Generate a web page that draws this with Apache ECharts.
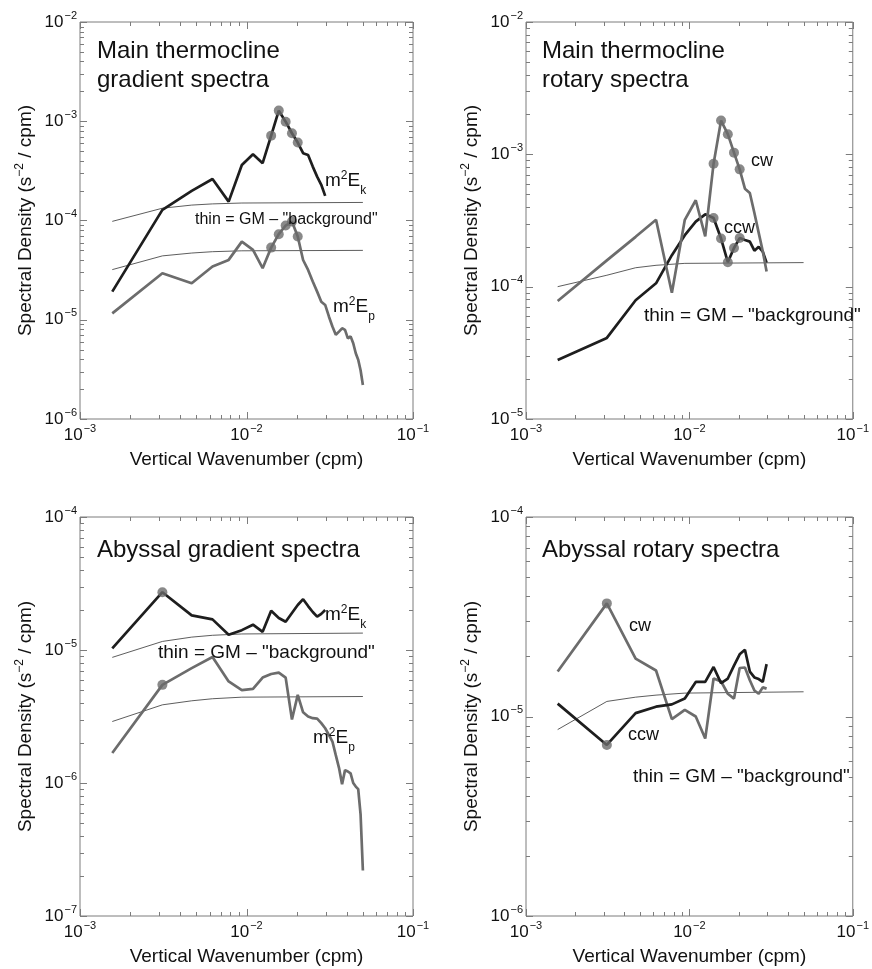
<!DOCTYPE html>
<html><head><meta charset="utf-8">
<script src="https://cdn.jsdelivr.net/npm/echarts@6/dist/echarts.min.js"></script>
<style>html,body{margin:0;padding:0;background:#fff}#c{width:872px;height:969px}</style>
</head><body><div id="c"></div>
<script>
// ---------- DATA ----------
// vertical wavenumber (cpm): harmonics of 1/640 cpm
const wavenumber = [0.0015625, 0.003125, 0.0046875, 0.00625, 0.0078125, 0.009375, 0.0109375, 0.0125,
  0.0140625, 0.015625, 0.0171875, 0.01875, 0.0203125, 0.021875, 0.0234375, 0.025,
  0.0265625, 0.028125, 0.0296875, 0.03125, 0.0328125, 0.034375, 0.0359375, 0.0375,
  0.0390625, 0.040625, 0.0421875, 0.04375, 0.0453125, 0.046875, 0.0484375, 0.05];
// GM reference curves are given at these wavenumbers
const gmWavenumber = [0.0015625, 0.003125, 0.0046875, 0.00625, 0.009375, 0.05];

// Main thermocline gradient spectra
const thermoEk = [1.92e-5, 1.28e-4, 1.99e-4, 2.62e-4, 1.55e-4, 3.63e-4, 4.66e-4, 3.78e-4, 7.16e-4, 1.28e-3,
  9.9e-4, 7.57e-4, 6.1e-4, 4.77e-4, 4.58e-4, 3.49e-4, 2.77e-4, 2.29e-4, 1.77e-4];
const thermoEp = [1.16e-5, 2.94e-5, 2.33e-5, 3.44e-5, 4.01e-5, 6.13e-5, 5.06e-5, 3.31e-5, 5.33e-5, 7.28e-5,
  8.9e-5, 9.75e-5, 6.9e-5, 4.0e-5, 3.18e-5, 2.43e-5, 1.92e-5, 1.52e-5, 1.41e-5, 1.08e-5,
  8.55e-6, 7.05e-6, 7.6e-6, 8.2e-6, 7.9e-6, 6.5e-6, 6.8e-6, 5.8e-6, 4.6e-6, 3.95e-6, 3.1e-6, 2.2e-6];
const thermoGmEk = [9.8e-5, 1.33e-4, 1.43e-4, 1.47e-4, 1.5e-4, 1.52e-4];
const thermoGmEp = [3.2e-5, 4.4e-5, 4.7e-5, 4.85e-5, 4.95e-5, 5.0e-5];
const thermoGradMarked = [8, 9, 10, 11, 12];

// Main thermocline rotary spectra
const thermoCw = [7.8e-5, 1.58e-4, 2.38e-4, 3.2e-4, 9.0e-5, 3.2e-4, 4.5e-4, 2.4e-4, 8.5e-4, 1.8e-3,
  1.42e-3, 1.03e-3, 7.7e-4, 5.5e-4, 5.1e-4, 3.6e-4, 2.55e-4, 1.85e-4, 1.3e-4];
const thermoCcw = [2.79e-5, 4.1e-5, 7.9e-5, 1.06e-4, 1.73e-4, 2.45e-4, 3.1e-4, 3.52e-4, 3.3e-4, 2.31e-4,
  1.53e-4, 1.96e-4, 2.33e-4, 2.25e-4, 2.19e-4, 1.87e-4, 2.0e-4, 1.84e-4, 1.52e-4];
const thermoGmRot = [1.0e-4, 1.22e-4, 1.39e-4, 1.45e-4, 1.5e-4, 1.52e-4];
const thermoRotMarked = [8, 9, 10, 11, 12];

// Abyssal gradient spectra
const abyssEk = [1.03e-5, 2.72e-5, 1.82e-5, 1.7e-5, 1.3e-5, 1.41e-5, 1.55e-5, 1.37e-5, 1.97e-5, 1.74e-5,
  1.63e-5, 1.9e-5, 2.18e-5, 2.41e-5, 2.14e-5, 1.93e-5, 1.78e-5, 1.87e-5, 2.0e-5];
const abyssEp = [1.68e-6, 5.47e-6, 7.3e-6, 8.85e-6, 5.8e-6, 5.0e-6, 5.1e-6, 6.2e-6, 6.6e-6, 6.75e-6,
  6.2e-6, 3.0e-6, 4.6e-6, 3.4e-6, 3.16e-6, 3.07e-6, 3.05e-6, 2.82e-6, 2.58e-6, 2.3e-6,
  2.05e-6, 1.62e-6, 1.3e-6, 9.8e-7, 1.25e-6, 1.22e-6, 1.18e-6, 1.0e-6, 9.4e-7, 9.0e-7, 5.8e-7, 2.2e-7];
const abyssGmEk = [8.8e-6, 1.16e-5, 1.25e-5, 1.29e-5, 1.32e-5, 1.34e-5];
const abyssGmEp = [2.9e-6, 3.87e-6, 4.15e-6, 4.3e-6, 4.42e-6, 4.47e-6];
const abyssGradMarked = [1];

// Abyssal rotary spectra
const abyssCw = [1.68e-5, 3.69e-5, 1.95e-5, 1.7e-5, 9.7e-6, 1.08e-5, 1.0e-5, 7.75e-6, 1.55e-5, 1.5e-5,
  1.3e-5, 1.23e-5, 1.75e-5, 1.76e-5, 1.52e-5, 1.35e-5, 1.3e-5, 1.4e-5, 1.38e-5];
const abyssCcw = [1.16e-5, 7.2e-6, 1.04e-5, 1.12e-5, 1.15e-5, 1.23e-5, 1.49e-5, 1.49e-5, 1.77e-5, 1.47e-5,
  1.55e-5, 1.8e-5, 2.05e-5, 2.16e-5, 1.68e-5, 1.57e-5, 1.54e-5, 1.49e-5, 1.83e-5];
const abyssGmRot = [8.6e-6, 1.19e-5, 1.25e-5, 1.28e-5, 1.31e-5, 1.33e-5];
const abyssRotMarked = [1];

// ---------- STYLE ----------
const FONT = '"Liberation Sans", Arial, Helvetica, sans-serif';
const DARK = '#1e1e1e', GRAY = '#6c6c6c', FRAME = '#7c7c7c', TXT = '#111';

const pts = ys => ys.map((y, i) => [wavenumber[i], y]);
const gmPts = ys => ys.map((y, i) => [gmWavenumber[i], y]);
const marks = (ys, idx) => idx.map(i => [wavenumber[i], ys[i]]);

const tickRich = {
  b: {fontSize: 17, fontFamily: FONT, color: TXT, lineHeight: 26},
  s: {fontSize: 11, fontFamily: FONT, color: TXT, lineHeight: 12, verticalAlign: 'top', padding: [1, 0, 0, 1]}
};
const expLabel = v => '{b|10}{s|\u2212' + (-Math.round(Math.log10(v))) + '}';

const panels = [
  {grid: {left: 80, top: 22, width: 333, height: 397}, ymin: 1e-6, ymax: 1e-2,
   lines: [
     {d: gmPts(thermoGmEk), c: '#333', w: 0.8},
     {d: gmPts(thermoGmEp), c: '#333', w: 0.8},
     {d: pts(thermoEp), c: GRAY, w: 2.7},
     {d: pts(thermoEk), c: DARK, w: 2.7}],
   dots: [marks(thermoEk, thermoGradMarked), marks(thermoEp, thermoGradMarked)]},
  {grid: {left: 526, top: 22, width: 333, height: 397}, ymin: 1e-5, ymax: 1e-2,
   lines: [
     {d: gmPts(thermoGmRot), c: '#333', w: 0.8},
     {d: pts(thermoCcw), c: DARK, w: 2.7},
     {d: pts(thermoCw), c: GRAY, w: 2.7}],
   dots: [marks(thermoCw, thermoRotMarked), marks(thermoCcw, thermoRotMarked)]},
  {grid: {left: 80, top: 517, width: 333, height: 399}, ymin: 1e-7, ymax: 1e-4,
   lines: [
     {d: gmPts(abyssGmEk), c: '#333', w: 0.8},
     {d: gmPts(abyssGmEp), c: '#333', w: 0.8},
     {d: pts(abyssEp), c: GRAY, w: 2.7},
     {d: pts(abyssEk), c: DARK, w: 2.7}],
   dots: [marks(abyssEk, abyssGradMarked), marks(abyssEp, abyssGradMarked)]},
  {grid: {left: 526, top: 517, width: 333, height: 399}, ymin: 1e-6, ymax: 1e-4,
   lines: [
     {d: gmPts(abyssGmRot), c: '#333', w: 0.8},
     {d: pts(abyssCw), c: GRAY, w: 2.7},
     {d: pts(abyssCcw), c: DARK, w: 2.7}],
   dots: [marks(abyssCw, abyssRotMarked), marks(abyssCcw, abyssRotMarked)]}
];

const grid = [], xAxis = [], yAxis = [], series = [];
panels.forEach((p, gi) => {
  grid.push(Object.assign({show: true, borderColor: FRAME, borderWidth: 1}, p.grid));
  xAxis.push({
    type: 'log', logBase: 10, min: 1e-3, max: 1e-1, gridIndex: gi,
    axisLine: {show: false}, axisTick: {show: false}, splitLine: {show: false},
    axisLabel: {formatter: expLabel, rich: tickRich, margin: 3},
    name: 'Vertical Wavenumber (cpm)', nameLocation: 'middle', nameGap: 31,
    nameTextStyle: {fontSize: 19, color: TXT, fontFamily: FONT}
  });
  yAxis.push({
    type: 'log', logBase: 10, min: p.ymin, max: p.ymax, gridIndex: gi,
    axisLine: {show: false}, axisTick: {show: false}, splitLine: {show: false},
    axisLabel: {formatter: expLabel, rich: tickRich, margin: 3},
    name: '{a|Spectral Density (s}{s|\u22122}{a| / cpm)}', nameLocation: 'middle', nameGap: 46,
    nameTextStyle: {rich: {
      a: {fontSize: 19, fontFamily: FONT, color: TXT, lineHeight: 20, padding: [4, 0, 0, 0]},
      s: {fontSize: 12, fontFamily: FONT, color: TXT, lineHeight: 12, verticalAlign: 'top'}}}
  });
  p.lines.forEach(l => series.push({
    type: 'line', xAxisIndex: gi, yAxisIndex: gi, data: l.d, showSymbol: false,
    lineStyle: {color: l.c, width: l.w}, silent: true
  }));
  p.dots.forEach(d => series.push({
    type: 'scatter', xAxisIndex: gi, yAxisIndex: gi, data: d, symbolSize: 10,
    itemStyle: {color: GRAY}, silent: true, z: 3
  }));
  // frame ticks (inside, all four sides)
  const ymin = p.ymin, ymax = p.ymax;
  series.push({
    type: 'custom', xAxisIndex: gi, yAxisIndex: gi, silent: true, z: 4,
    data: [[1e-2, ymin]],
    renderItem: (params, api) => {
      const cs = params.coordSys;
      const ch = [];
      const ln = (x1, y1, x2, y2) => ({type: 'line', shape: {x1, y1, x2, y2}, style: {stroke: FRAME, lineWidth: 1}});
      const x0 = cs.x, x1 = cs.x + cs.width, y0 = cs.y, y1 = cs.y + cs.height;
      for (let e = -3; e <= -1; e++) {
        for (let m = 1; m <= (e < -1 ? 9 : 1); m++) {
          const v = m * Math.pow(10, e);
          const px = Math.round(api.coord([v, ymin])[0]) + 0.5;
          const L = m === 1 ? 7 : 4;
          ch.push(ln(px, y1, px, y1 - L), ln(px, y0, px, y0 + L));
        }
      }
      const eMinY = Math.round(Math.log10(ymin)), eMaxY = Math.round(Math.log10(ymax));
      for (let e = eMinY; e <= eMaxY; e++) {
        for (let m = 1; m <= (e < eMaxY ? 9 : 1); m++) {
          const v = m * Math.pow(10, e);
          const py = Math.round(api.coord([1e-2, v])[1]) + 0.5;
          const L = m === 1 ? 7 : 4;
          ch.push(ln(x0, py, x0 + L, py), ln(x1, py, x1 - L, py));
        }
      }
      return {type: 'group', children: ch};
    }
  });
});

const annRich = {
  a: {fontSize: 19, fontFamily: FONT, color: TXT, lineHeight: 36},
  p: {fontSize: 12, fontFamily: FONT, color: TXT, lineHeight: 12, padding: [7, 0, 0, 0], verticalAlign: 'top'},
  q: {fontSize: 12, fontFamily: FONT, color: TXT, lineHeight: 12, padding: [0, 0, 2, 0], verticalAlign: 'bottom'}
};
const T = (text, left, top, size) => ({
  text, left, top, padding: 0, itemGap: 0,
  textStyle: {fontSize: size || 19, fontWeight: 'normal', fontFamily: FONT, color: TXT,
    lineHeight: size === 24 ? 29 : (size || 19) + 2, rich: annRich}
});
const title = [
  T('Main thermocline\ngradient spectra', 97, 37, 24),
  T('Main thermocline\nrotary spectra', 542, 37, 24),
  T('Abyssal gradient spectra', 97, 536, 24),
  T('Abyssal rotary spectra', 542, 536, 24),
  T('{a|m}{p|2}{a|E}{q|k}', 325, 163),
  T('{a|m}{p|2}{a|E}{q|p}', 333, 289),
  T('thin = GM \u2013 "background"', 195, 211, 16),
  T('cw', 751, 151, 18),
  T('ccw', 724, 218, 18),
  T('thin = GM \u2013 "background"', 644, 305, 19),
  T('{a|m}{p|2}{a|E}{q|k}', 325, 597),
  T('{a|m}{p|2}{a|E}{q|p}', 313, 720),
  T('thin = GM \u2013 "background"', 158, 642, 19),
  T('cw', 629, 616, 18),
  T('ccw', 628, 725, 18),
  T('thin = GM \u2013 "background"', 633, 766, 19)
];

const chart = echarts.init(document.getElementById('c'), null, {renderer: 'canvas'});
chart.setOption({animation: false, backgroundColor: '#fff', title, grid, xAxis, yAxis, series});
</script>
</body></html>
